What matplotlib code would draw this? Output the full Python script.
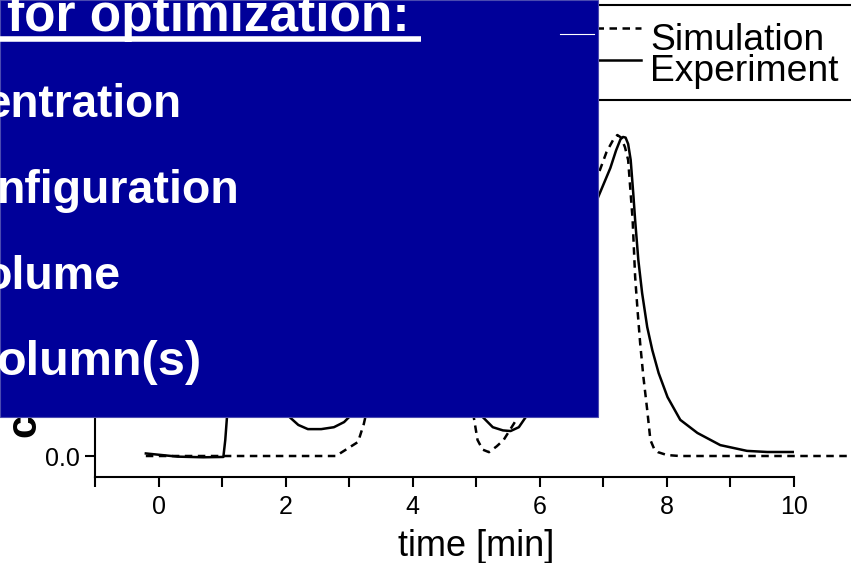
import numpy as np
import matplotlib.pyplot as plt
from matplotlib.patches import Rectangle
from matplotlib.lines import Line2D
from matplotlib.ticker import MultipleLocator, FormatStrFormatter

plt.rcParams['font.family'] = ['Liberation Sans', 'DejaVu Sans']

# --- data (peak height taken as ~1.0) ---
# Experiment (solid)
t_exp = [-0.2, 0.3, 0.7, 1.02, 1.05, 1.08, 1.15, 1.3, 1.5, 1.75, 1.95,
         2.06, 2.20, 2.35, 2.56, 2.76, 2.92, 3.0, 3.3, 3.7, 4.1, 4.5, 4.85,
         5.10, 5.26, 5.42, 5.54, 5.67, 5.78, 6.0, 6.3, 6.6,
         6.92, 7.11, 7.20, 7.27, 7.31, 7.35, 7.39, 7.43, 7.47, 7.50, 7.55,
         7.61, 7.69, 7.77, 7.87, 8.01, 8.21, 8.48, 8.84, 9.26, 9.58, 9.98]
c_exp = [0.008, -0.002, -0.004, -0.003, 0.05, 0.13, 0.30, 0.45, 0.50, 0.40, 0.20,
         0.122, 0.097, 0.084, 0.084, 0.09, 0.106, 0.122, 0.30, 0.55, 0.60, 0.50, 0.30,
         0.122, 0.09, 0.08, 0.078, 0.09, 0.122, 0.30, 0.50, 0.65,
         0.81, 0.90, 0.955, 0.99, 0.997, 0.995, 0.975, 0.925, 0.822, 0.737, 0.613,
         0.509, 0.403, 0.331, 0.259, 0.184, 0.113, 0.072, 0.034, 0.016, 0.0125, 0.0125]

# Simulation (dashed)
t_sim = [-0.2, 2.8, 2.87, 3.14, 3.23, 3.4, 3.7, 4.0, 4.3, 4.6, 4.85,
         4.96, 5.02, 5.10, 5.20, 5.32, 5.43, 5.62, 5.8, 6.1, 6.5,
         6.92, 7.05, 7.16, 7.22, 7.28, 7.34, 7.39, 7.46, 7.50, 7.54, 7.58, 7.63,
         7.69, 7.74, 7.80, 7.86, 8.0, 8.2, 10.9]
c_sim = [0.0, 0.0, 0.01, 0.044, 0.10, 0.25, 0.50, 0.65, 0.60, 0.45, 0.25,
         0.122, 0.05, 0.02, 0.012, 0.03, 0.05, 0.11, 0.25, 0.45, 0.68,
         0.88, 0.95, 0.99, 1.003, 0.995, 0.965, 0.925, 0.74, 0.56, 0.45, 0.35, 0.247,
         0.144, 0.05, 0.022, 0.012, 0.003, 0.0, 0.0]

legend_labels = ['Simulation', 'Experiment']
header = 'for optimization:'
bullets = ['entration', 'nfiguration', 'olume', 'olumn(s)']

W, H = 851, 563


def fx(px):
    return px / W


def fy(py):
    return 1 - py / H


fig = plt.figure(figsize=(W / 100, H / 100), dpi=100)
ax = fig.add_axes([fx(95), fy(477), (794 - 95) / W, 477 / H])

dash = (0, (3, 2.2))
ax.plot(t_sim, c_sim, color='black', lw=1.8, ls=dash, clip_on=False)
ax.plot(t_exp, c_exp, color='black', lw=1.8)

ax.set_xlim(-1, 10)
ax.set_ylim(-21 / 320, 456 / 320)
for s in ['top', 'right']:
    ax.spines[s].set_visible(False)
for s in ['left', 'bottom']:
    ax.spines[s].set_linewidth(1.5)

ax.xaxis.set_major_locator(MultipleLocator(2))
ax.xaxis.set_minor_locator(MultipleLocator(1))
ax.set_yticks([0.0])
ax.yaxis.set_major_formatter(FormatStrFormatter('%.1f'))
ax.tick_params(axis='both', which='both', direction='out', length=7.2, width=1.5)
ax.tick_params(axis='x', labelsize=18, pad=5.5)
ax.tick_params(axis='y', labelsize=18, pad=3.6)

ax.set_xlabel('time [min]', fontsize=26)
ax.xaxis.set_label_coords(0.545, -0.108)

# y label, mostly hidden behind the box
fig.text(fx(44), fy(437), 'c', rotation=90, ha='right', va='bottom',
         fontsize=30, fontweight='bold', zorder=1)

# legend (frame runs off the right edge)
fig.add_artist(Rectangle((fx(560), fy(100)), 400 / W, 95 / H, transform=fig.transFigure,
                         fill=False, ec='black', lw=1.5, clip_on=False, zorder=3))
fig.add_artist(Line2D([fx(570), fx(641)], [fy(28), fy(28)], transform=fig.transFigure,
                      color='black', lw=1.8, ls=dash, zorder=3))
fig.add_artist(Line2D([fx(570), fx(641)], [fy(60), fy(60)], transform=fig.transFigure,
                      color='black', lw=1.8, zorder=3))
fig.text(fx(650), fy(50), legend_labels[0], fontsize=26.8, va='baseline', zorder=3)
fig.text(fx(650), fy(81), legend_labels[1], fontsize=26.8, va='baseline', zorder=3)

# blue overlay box with text
fig.add_artist(Rectangle((0, fy(417)), fx(598), 417 / H, transform=fig.transFigure,
                         fc='#000099', ec='#4a4ab0', lw=0.8, zorder=10))
fig.add_artist(Line2D([fx(560), fx(594)], [fy(34), fy(34)], transform=fig.transFigure,
                      color='white', lw=0.8, zorder=11))
fig.text(fx(410), fy(31), header, ha='right', va='baseline', fontsize=37,
         fontweight='bold', color='white', zorder=11)
fig.add_artist(Line2D([0, fx(421)], [fy(39), fy(39)], transform=fig.transFigure,
                      color='white', lw=4, solid_capstyle='butt', zorder=11))

ends = [181, 240, 120, 201]
bases = [117, 203, 289, 375]
sizes = [33, 33.5, 33.5, 35]
for txt, xe, yb, fs in zip(bullets, ends, bases, sizes):
    fig.text(fx(xe), fy(yb), txt, ha='right', va='baseline', fontsize=fs,
             fontweight='bold', color='white', zorder=11)

fig.savefig('out.png', dpi=100)
